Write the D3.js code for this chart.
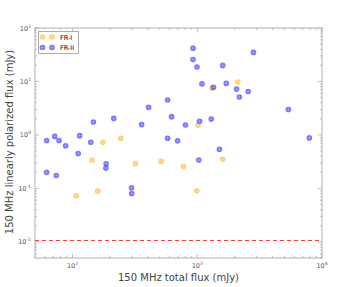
<!DOCTYPE html>
<html>
<head>
<meta charset="utf-8">
<script src="https://cdn.jsdelivr.net/npm/d3@7"></script>
<style>
  body { margin: 0; background: #fff; }
  text { font-family: "DejaVu Sans", sans-serif; }
</style>
</head>
<body>
<div id="chart"></div>
<script>
// FR-I sources: [total flux, polarized flux] in mJy
const FR1_TOTAL = [175, 244, 143, 319, 513, 777, 1600, 159, 107, 991, 1013, 1318, 2109];
const FR1_POL   = [0.73, 0.87, 0.34, 0.29, 0.32, 0.26, 0.35, 0.089, 0.073, 0.09, 1.52, 7.5, 9.8];

// FR-II sources
const FR2_TOTAL = [62, 72, 78, 88, 114, 147, 140, 111, 186, 185, 62, 74, 297, 298,
                   214, 407, 578, 622, 358, 804, 1042, 1294, 578, 695, 1505, 1028,
                   925, 924, 994, 2820, 1600, 1091, 1348, 1709, 2063, 2559, 2176, 5376, 7915];
const FR2_POL   = [0.79, 0.94, 0.79, 0.63, 0.97, 1.75, 0.73, 0.45, 0.29, 0.24, 0.2, 0.175, 0.103, 0.08,
                   2.04, 3.28, 4.5, 2.2, 1.56, 1.53, 1.8, 1.98, 0.87, 0.78, 0.54, 0.34,
                   42, 25.8, 18.6, 35, 20, 9.0, 7.8, 9.2, 7.2, 6.5, 5.1, 3.0, 0.88];

const LIMIT = 0.011;

const X_DOMAIN = [50, 10000];
const Y_DOMAIN = [0.005, 100];

const WIDTH = 342, HEIGHT = 287;
const margin = {left: 35, right: 20, top: 28, bottom: 29};

const FR1_COLOR = "rgba(255,165,0,0.55)";
const FR2_COLOR = "rgba(0,0,255,0.55)";

const svg = d3.select("#chart").append("svg")
  .attr("width", WIDTH)
  .attr("height", HEIGHT);

const xScale = d3.scaleLog().domain(X_DOMAIN).range([margin.left, WIDTH - margin.right]);
const yScale = d3.scaleLog().domain(Y_DOMAIN).range([HEIGHT - margin.bottom, margin.top]);

const x0 = margin.left, x1 = WIDTH - margin.right;
const y0 = margin.top, y1 = HEIGHT - margin.bottom;

// ticks (inside on all four sides)
function logTicks(domain) {
  const major = [], minor = [];
  for (let e = -3; e <= 4; e++) {
    for (let m = 1; m < 10; m++) {
      const v = m * Math.pow(10, e);
      if (v < domain[0] * 0.999 || v > domain[1] * 1.001) continue;
      (m === 1 ? major : minor).push(v);
    }
  }
  return {major, minor};
}

const axisColor = "#b0b0b0";
const xt = logTicks(X_DOMAIN), yt = logTicks(Y_DOMAIN);
const tickG = svg.append("g").attr("stroke", axisColor).attr("stroke-width", 0.8);

[[xt.major, 4], [xt.minor, 2]].forEach(([vals, len]) => {
  vals.forEach(v => {
    tickG.append("line").attr("x1", xScale(v)).attr("x2", xScale(v)).attr("y1", y1).attr("y2", y1 - len);
    tickG.append("line").attr("x1", xScale(v)).attr("x2", xScale(v)).attr("y1", y0).attr("y2", y0 + len);
  });
});
[[yt.major, 4], [yt.minor, 2]].forEach(([vals, len]) => {
  vals.forEach(v => {
    tickG.append("line").attr("y1", yScale(v)).attr("y2", yScale(v)).attr("x1", x0).attr("x2", x0 + len);
    tickG.append("line").attr("y1", yScale(v)).attr("y2", yScale(v)).attr("x1", x1).attr("x2", x1 - len);
  });
});

// tick labels
function powLabel(sel, v) {
  const e = Math.round(Math.log10(v));
  sel.append("tspan").text("10");
  sel.append("tspan").attr("dy", -3).attr("font-size", 4.5).text(e);
}
xt.major.forEach(v => {
  const t = svg.append("text").attr("x", xScale(v)).attr("y", y1 + 10)
    .attr("text-anchor", "middle").attr("font-size", 6.5).attr("fill", "#555");
  powLabel(t, v);
});
yt.major.forEach(v => {
  const t = svg.append("text").attr("x", x0 - 4).attr("y", yScale(v) + 2.5)
    .attr("text-anchor", "end").attr("font-size", 6.5).attr("fill", "#555");
  powLabel(t, v);
});

// frame
svg.append("rect")
  .attr("x", x0).attr("y", y0).attr("width", x1 - x0).attr("height", y1 - y0)
  .attr("fill", "none").attr("stroke", axisColor).attr("stroke-width", 1);

// detection limit
const yLim = Math.round(yScale(LIMIT)) + 0.5;
svg.append("line")
  .attr("x1", x0).attr("x2", x1)
  .attr("y1", yLim).attr("y2", yLim)
  .attr("stroke", "#ff3a3a").attr("stroke-width", 1).attr("stroke-dasharray", "4,3");

// markers
function marker(g, cx, cy, color) {
  g.append("circle").attr("cx", cx).attr("cy", cy).attr("r", 2.8).attr("fill", color);
  g.append("path")
    .attr("d", `M${cx - 2.2},${cy}H${cx + 2.2}M${cx},${cy - 2.2}V${cy + 2.2}`)
    .attr("stroke", "rgba(255,255,255,0.35)").attr("stroke-width", 0.7);
}

const pts = svg.append("g");
FR1_TOTAL.forEach((d, i) => marker(pts, xScale(d), yScale(FR1_POL[i]), FR1_COLOR));
FR2_TOTAL.forEach((d, i) => marker(pts, xScale(d), yScale(FR2_POL[i]), FR2_COLOR));

// legend
const lg = svg.append("g");
lg.append("rect").attr("x", 38.5).attr("y", 31.5).attr("width", 40).attr("height", 22)
  .attr("fill", "#fff").attr("stroke", "#999").attr("stroke-width", 0.8);
[["FR-I", FR1_COLOR, 37], ["FR-II", FR2_COLOR, 47.5]].forEach(([name, color, y]) => {
  marker(lg, 42.5, y, color);
  marker(lg, 52, y, color);
  lg.append("text").attr("x", 60).attr("y", y + 2.5).attr("font-size", 6.5).attr("fill", "#000").text(name);
});

// axis labels
svg.append("text")
  .attr("x", (x0 + x1) / 2).attr("y", 281)
  .attr("text-anchor", "middle").attr("font-size", 10).attr("fill", "#444")
  .text("150 MHz total flux (mJy)");

svg.append("text")
  .attr("transform", `translate(13,${(y0 + y1) / 2 - 1}) rotate(-90)`)
  .attr("text-anchor", "middle").attr("font-size", 10).attr("fill", "#444")
  .text("150 MHz linearly polarized flux (mJy)");
</script>
</body>
</html>
